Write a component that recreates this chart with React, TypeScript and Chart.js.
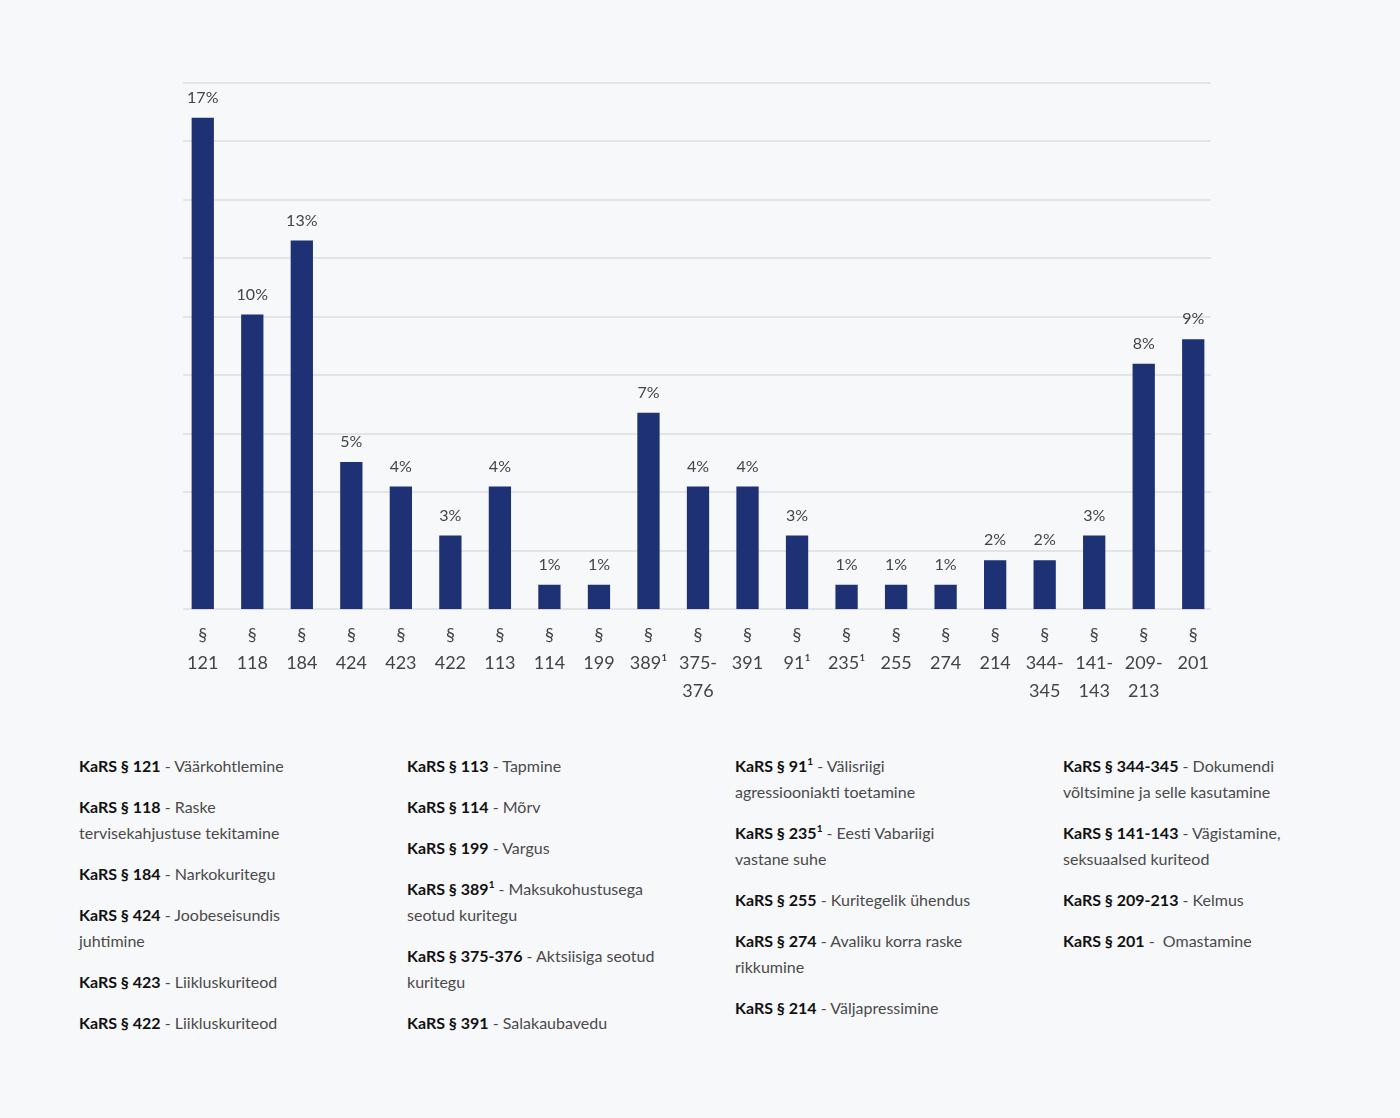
import React, { useEffect, useRef } from "react";
import { Chart, registerables } from "chart.js";

Chart.register(...registerables);

const categories: string[][] = [
  ["§", "121"], ["§", "118"], ["§", "184"], ["§", "424"], ["§", "423"], ["§", "422"],
  ["§", "113"], ["§", "114"], ["§", "199"], ["§", "389¹"], ["§", "375-", "376"], ["§", "391"],
  ["§", "91¹"], ["§", "235¹"], ["§", "255"], ["§", "274"], ["§", "214"], ["§", "344-", "345"],
  ["§", "141-", "143"], ["§", "209-", "213"], ["§", "201"],
];

const shares: number[] = [
  16.81, 10.08, 12.61, 5.04, 4.2, 2.52, 4.2, 0.84, 0.84, 6.72, 4.2, 4.2, 2.52, 0.84, 0.84, 0.84,
  1.68, 1.68, 2.52, 8.4, 9.24,
];

const valueLabels: string[] = [
  "17%", "10%", "13%", "5%", "4%", "3%", "4%", "1%", "1%", "7%", "4%", "4%", "3%", "1%", "1%", "1%",
  "2%", "2%", "3%", "8%", "9%",
];

const yMax = 18;
const yStep = 2;

type Entry = { code: string; sup?: string; lines: string[] };

const legendCol1: Entry[] = [
  { code: "KaRS § 121", lines: ["Väärkohtlemine"] },
  { code: "KaRS § 118", lines: ["Raske", "tervisekahjustuse tekitamine"] },
  { code: "KaRS § 184", lines: ["Narkokuritegu"] },
  { code: "KaRS § 424", lines: ["Joobeseisundis", "juhtimine"] },
  { code: "KaRS § 423", lines: ["Liikluskuriteod"] },
  { code: "KaRS § 422", lines: ["Liikluskuriteod"] },
];
const legendCol2: Entry[] = [
  { code: "KaRS § 113", lines: ["Tapmine"] },
  { code: "KaRS § 114", lines: ["Mõrv"] },
  { code: "KaRS § 199", lines: ["Vargus"] },
  { code: "KaRS § 389", sup: "1", lines: ["Maksukohustusega", "seotud kuritegu"] },
  { code: "KaRS § 375-376", lines: ["Aktsiisiga seotud", "kuritegu"] },
  { code: "KaRS § 391", lines: ["Salakaubavedu"] },
];
const legendCol3: Entry[] = [
  { code: "KaRS § 91", sup: "1", lines: ["Välisriigi", "agressiooniakti toetamine"] },
  { code: "KaRS § 235", sup: "1", lines: ["Eesti Vabariigi", "vastane suhe"] },
  { code: "KaRS § 255", lines: ["Kuritegelik ühendus"] },
  { code: "KaRS § 274", lines: ["Avaliku korra raske", "rikkumine"] },
  { code: "KaRS § 214", lines: ["Väljapressimine"] },
];
const legendCol4: Entry[] = [
  { code: "KaRS § 344-345", lines: ["Dokumendi", "võltsimine ja selle kasutamine"] },
  { code: "KaRS § 141-143", lines: ["Vägistamine,", "seksuaalsed kuriteod"] },
  { code: "KaRS § 209-213", lines: ["Kelmus"] },
  { code: "KaRS § 201", lines: ["\u00a0Omastamine"] },
];

const FONT = "'Source Sans Pro', Lato, 'Noto Sans', sans-serif";
const BG = "#f7f8fa";
const BAR = "#1e3174";
const GRID = "#e2e4e8";

function LegendColumn({ items }: { items: Entry[] }) {
  return (
    <div style={{ width: 328, flex: "0 0 328px" }}>
      {items.map((e, i) => (
        <div key={i} style={{ marginBottom: 15, lineHeight: "26px", whiteSpace: "nowrap" }}>
          <span style={{ fontWeight: 700, color: "#111" }}>
            {e.code}
            {e.sup ? <sup style={{ fontSize: 10, lineHeight: 0, verticalAlign: "7px" }}>{e.sup}</sup> : null}
          </span>
          <span style={{ color: "#4a4a4a" }}>
            {" - "}
            {e.lines.map((l, j) => (
              <React.Fragment key={j}>
                {j > 0 ? <br /> : null}
                {l}
              </React.Fragment>
            ))}
          </span>
        </div>
      ))}
    </div>
  );
}

export default function App() {
  const ref = useRef<HTMLCanvasElement | null>(null);

  useEffect(() => {
    document.body.style.margin = "0";
    document.body.style.background = BG;
    const canvas = ref.current;
    if (!canvas) return;

    const gridPlugin = {
      id: "insetGrid",
      beforeDatasetsDraw(chart: any) {
        const ctx = chart.ctx;
        const yScale = chart.scales.y;
        const area = chart.chartArea;
        ctx.save();
        ctx.strokeStyle = GRID;
        ctx.lineWidth = 2;
        yScale.ticks.forEach((t: any) => {
          const y = Math.round(yScale.getPixelForValue(t.value));
          ctx.beginPath();
          ctx.moveTo(area.left + 5, y);
          ctx.lineTo(area.right - 7, y);
          ctx.stroke();
        });
        ctx.restore();
      },
    };

    const labelPlugin = {
      id: "valueLabels",
      afterDatasetsDraw(chart: any) {
        const ctx = chart.ctx;
        const meta = chart.getDatasetMeta(0);
        ctx.save();
        ctx.font = `16px ${FONT}`;
        ctx.fillStyle = "#444";
        ctx.textAlign = "center";
        ctx.textBaseline = "middle";
        meta.data.forEach((bar: any, i: number) => {
          ctx.fillText(valueLabels[i], bar.x, bar.y - 20);
        });
        ctx.restore();
      },
    };

    const chart = new Chart(canvas, {
      type: "bar",
      data: {
        labels: categories,
        datasets: [
          {
            data: shares,
            backgroundColor: BAR,
            borderWidth: 0,
            categoryPercentage: 1,
            barPercentage: 0.45,
          },
        ],
      },
      options: {
        animation: false,
        responsive: true,
        maintainAspectRatio: false,
        layout: { padding: { left: 178, right: 182, top: 83, bottom: 4 } },
        plugins: { legend: { display: false }, tooltip: { enabled: false } },
        scales: {
          x: {
            grid: { display: false },
            border: { display: false },
            ticks: {
              color: "#444",
              font: { family: FONT, size: 18, lineHeight: 1.55 } as any,
              padding: 4,
              maxRotation: 0,
              autoSkip: false,
            },
          },
          y: {
            min: 0,
            max: yMax,
            grid: { display: false, drawTicks: false },
            border: { display: false },
            ticks: { display: false, stepSize: yStep },
          },
        },
      },
      plugins: [gridPlugin, labelPlugin],
    });
    return () => chart.destroy();
  }, []);

  return (
    <div style={{ background: BG, width: 1400, minHeight: 1118, fontFamily: FONT, fontSize: 16 }}>
      <div style={{ position: "relative", width: 1400, height: 713 }}>
        <canvas ref={ref} />
      </div>
      <div style={{ display: "flex", paddingLeft: 79, paddingTop: 40 }}>
        <LegendColumn items={legendCol1} />
        <LegendColumn items={legendCol2} />
        <LegendColumn items={legendCol3} />
        <LegendColumn items={legendCol4} />
      </div>
    </div>
  );
}
